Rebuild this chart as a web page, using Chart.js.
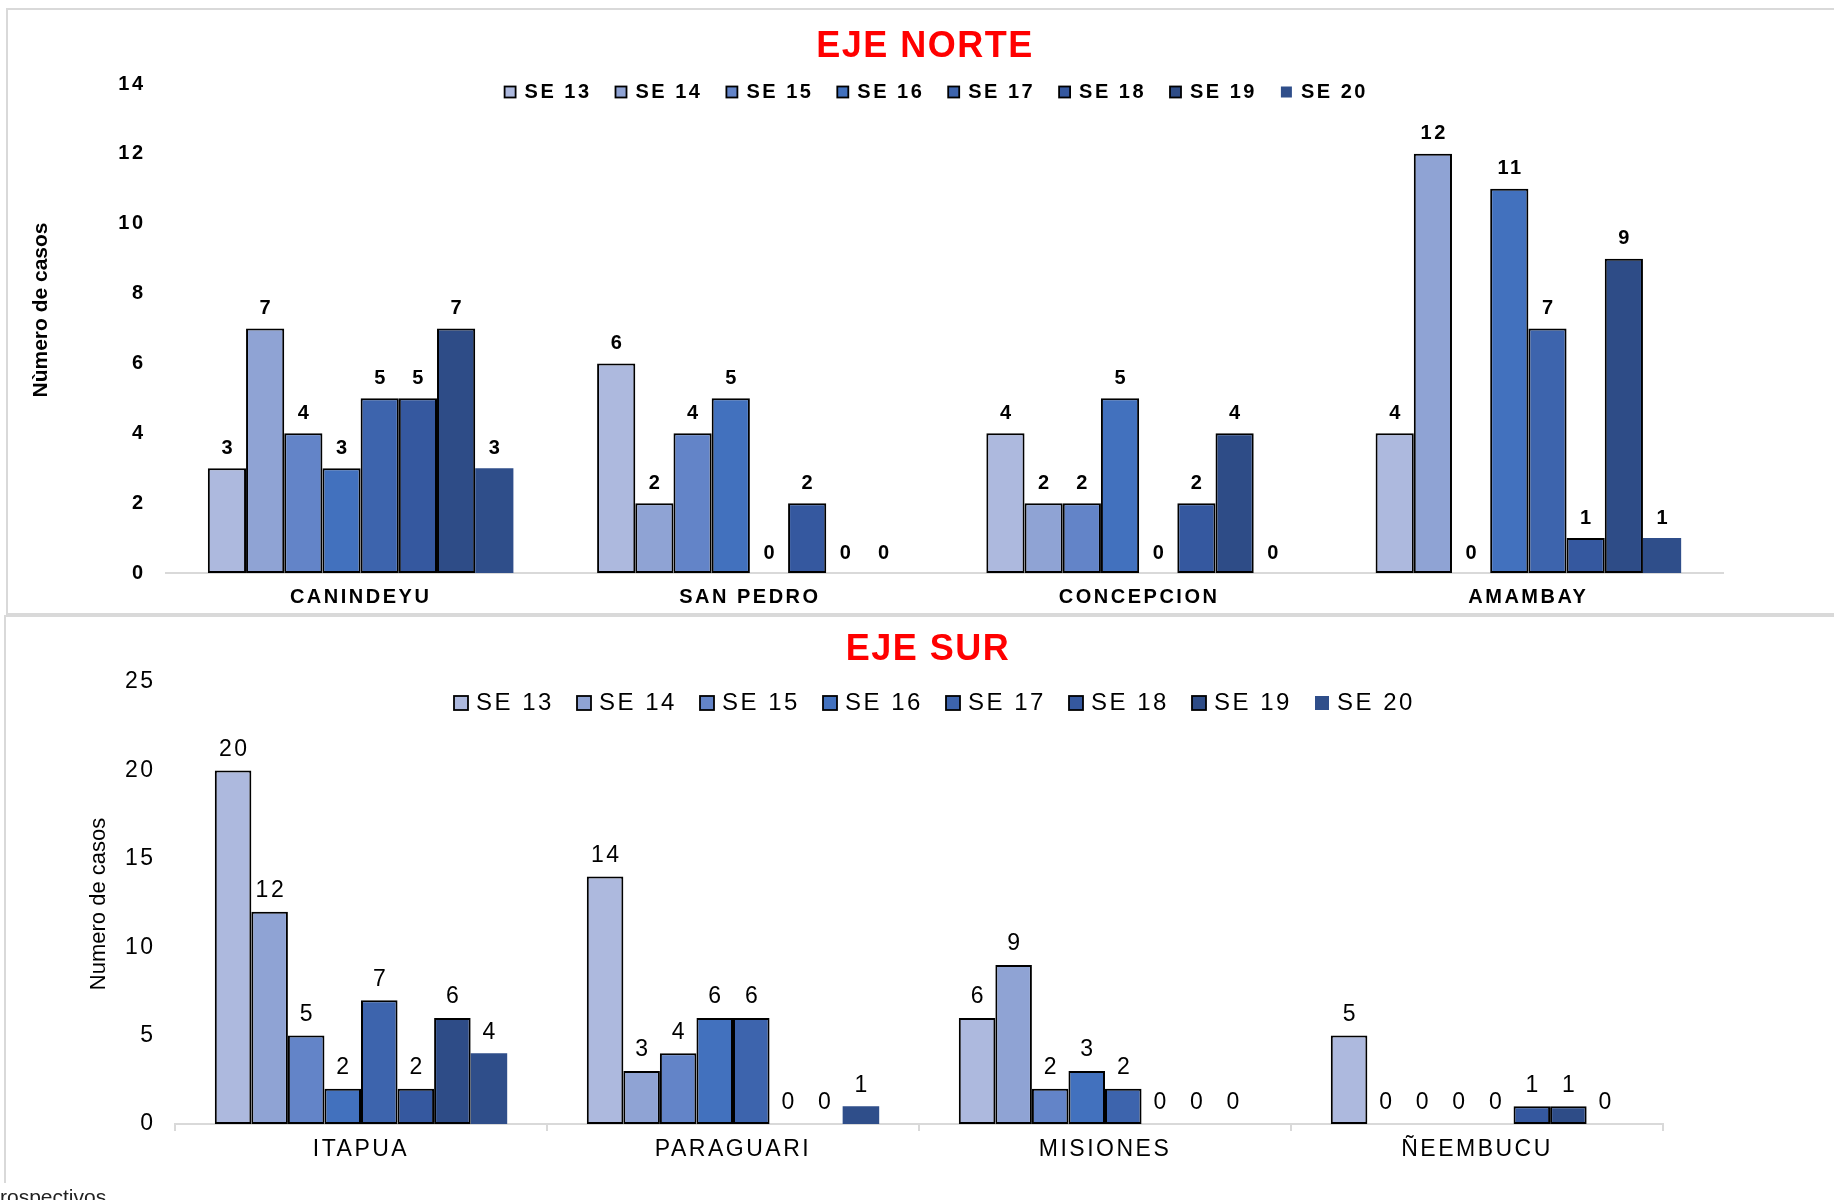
<!DOCTYPE html>
<html lang="es">
<head>
<meta charset="utf-8">
<title>Casos por SE — Eje Norte / Eje Sur</title>
<script src="https://cdn.jsdelivr.net/npm/chart.js@4.4.1/dist/chart.umd.min.js"></script>
<style>
  html, body { margin: 0; padding: 0; background: #fff; }
  body { width: 1834px; height: 1200px; position: relative; overflow: hidden;
         font-family: "Liberation Sans", Arial, sans-serif; }
  .frame { position: absolute; border: 2px solid #d9d9d9; border-right: none; }
  #frame-norte { left: 6px; top: 8px; width: 1840px; height: 603px; }
  #frame-sur { left: 4px; top: 615px; width: 1840px; height: 566px; border-bottom: none; }
  canvas { position: absolute; left: 0; }
  #chart-norte { top: 9px; }
  #chart-sur { top: 615px; }
  .nota { position: absolute; left: 0; top: 1185px; font-size: 21px; color: #222; }
</style>
</head>
<body>
<div class="frame" id="frame-norte"></div>
<div class="frame" id="frame-sur"></div>
<canvas id="chart-norte" width="1834" height="606"></canvas>
<canvas id="chart-sur" width="1834" height="585"></canvas>
<div class="nota">rospectivos</div>

<script>
// ─── Data ────────────────────────────────────────────────────────
const seriesNames  = ['SE 13', 'SE 14', 'SE 15', 'SE 16', 'SE 17', 'SE 18', 'SE 19', 'SE 20'];
const seriesColors = ['#adb9de', '#8fa3d4', '#6384c8', '#4271be', '#3d64ad', '#35589f', '#2e4c87', '#2f4e8a'];

// EJE NORTE — one row per semana, one value per departamento
const norteCategories = ['CANINDEYU', 'SAN PEDRO', 'CONCEPCION', 'AMAMBAY'];
const norteValues = [
  [3, 6, 4, 4],    // SE 13
  [7, 2, 2, 12],   // SE 14
  [4, 4, 2, 0],    // SE 15
  [3, 5, 5, 11],   // SE 16
  [5, 0, 0, 7],    // SE 17
  [5, 2, 2, 1],    // SE 18
  [7, 0, 4, 9],    // SE 19
  [3, 0, 0, 1]     // SE 20
];
const norteTicks = [0, 2, 4, 6, 8, 10, 12, 14];

// EJE SUR
const surCategories = ['ITAPUA', 'PARAGUARI', 'MISIONES', 'ÑEEMBUCU'];
const surValues = [
  [20, 14, 6, 5],  // SE 13
  [12, 3, 9, 0],   // SE 14
  [5, 4, 2, 0],    // SE 15
  [2, 6, 3, 0],    // SE 16
  [7, 6, 2, 0],    // SE 17
  [2, 0, 0, 1],    // SE 18
  [6, 0, 0, 1],    // SE 19
  [4, 1, 0, 0]     // SE 20
];
const surTicks = [0, 5, 10, 15, 20, 25];

const FONT = '"Liberation Sans", Arial, sans-serif';
Chart.defaults.font.family = FONT;

// ─── Title, legend, axis title and value labels ──────────────────
function decorPlugin(look) {
  return {
    id: 'decor',
    beforeDraw(chart) {
      // the source picture is stretched sideways, so widen the text a bit
      chart.ctx.letterSpacing = look.spacing + 'px';
    },
    afterDatasetsDraw(chart) {
      const ctx = chart.ctx;
      ctx.save();
      ctx.font = look.valueFont;
      ctx.fillStyle = '#000';
      ctx.textAlign = 'center';
      ctx.textBaseline = 'middle';
      chart.data.datasets.forEach((ds, i) => {
        chart.getDatasetMeta(i).data.forEach((bar, j) => {
          ctx.fillText(String(ds.data[j]), bar.x + look.spacing / 2, bar.y - look.valueGap);
        });
      });
      ctx.restore();
    },
    afterDraw(chart) {
      const ctx = chart.ctx;
      ctx.save();

      // title
      ctx.letterSpacing = look.titleSpacing + 'px';
      ctx.font = look.titleFont;
      ctx.fillStyle = '#ff0000';
      ctx.textAlign = 'center';
      ctx.textBaseline = 'middle';
      ctx.fillText(look.title, look.titleX, look.titleY);

      // legend
      ctx.letterSpacing = look.spacing + 'px';
      ctx.font = look.legendFont;
      ctx.textAlign = 'left';
      chart.data.datasets.forEach((ds, i) => {
        const x = look.legendX + i * look.legendStep;
        const b = look.legendBox;
        ctx.fillStyle = ds.backgroundColor;
        ctx.fillRect(x, look.legendY - b / 2, b, b);
        if (ds.borderWidth > 0) {
          ctx.lineWidth = 1.8;
          ctx.strokeStyle = '#000';
          ctx.strokeRect(x, look.legendY - b / 2, b, b);
        }
        ctx.fillStyle = '#000';
        ctx.fillText(ds.label, x + b + look.legendGap, look.legendY);
      });

      // y axis title
      ctx.letterSpacing = '0px';
      ctx.font = look.yTitleFont;
      ctx.textAlign = 'center';
      ctx.translate(look.yTitleX, look.yTitleY);
      ctx.rotate(-Math.PI / 2);
      ctx.fillText(look.yTitle, 0, 0);

      ctx.restore();
      ctx.letterSpacing = '0px';
    }
  };
}

// ─── Chart builder ───────────────────────────────────────────────
function buildChart(canvasId, categories, values, ticks, look) {
  const datasets = seriesNames.map((name, i) => ({
    label: name,
    data: values[i],
    backgroundColor: seriesColors[i],
    borderColor: '#000',
    borderWidth: i === seriesNames.length - 1 ? 0 : 2,
    borderSkipped: false,
    barPercentage: 1,
    categoryPercentage: look.groupShare
  }));

  return new Chart(document.getElementById(canvasId), {
    type: 'bar',
    data: { labels: categories, datasets },
    options: {
      responsive: false,
      animation: false,
      layout: { padding: { top: look.areaTop, right: look.padRight, bottom: 0, left: 0 } },
      plugins: {
        legend: { display: false },
        title: { display: false },
        tooltip: { enabled: false }
      },
      scales: {
        x: {
          afterFit: s => { s.height = look.xHeight; },
          grid: {
            display: look.xTickMarks,
            drawOnChartArea: false,
            drawTicks: look.xTickMarks,
            tickLength: 7,
            color: '#d9d9d9',
            lineWidth: 2
          },
          border: { display: true, color: '#d9d9d9', width: 2 },
          ticks: { color: '#000', font: look.catFont, padding: look.catPadding, maxRotation: 0 }
        },
        y: {
          min: ticks[0],
          max: ticks[ticks.length - 1],
          afterBuildTicks: s => { s.ticks = ticks.map(v => ({ value: v })); },
          afterFit: s => { s.width = look.yWidth; },
          grid: { display: false, drawTicks: false },
          border: { display: false },
          ticks: { color: '#000', font: look.tickFont, padding: look.tickPadding }
        }
      }
    },
    plugins: [decorPlugin(look)]
  });
}

buildChart('chart-norte', norteCategories, norteValues, norteTicks, {
  spacing: 2.5,
  areaTop: 75, padRight: 111, yWidth: 166, xHeight: 42,
  groupShare: 0.785,
  tickFont: { size: 20, weight: 'bold' }, tickPadding: 20.5,
  catFont: { size: 20, weight: 'bold' }, catPadding: 12,
  xTickMarks: false,
  valueFont: 'bold 20px ' + FONT, valueGap: 20,
  title: 'EJE NORTE', titleFont: 'bold 36px ' + FONT, titleSpacing: 1.5, titleX: 925, titleY: 38,
  legendFont: 'bold 20px ' + FONT, legendX: 504.6, legendStep: 110.9, legendY: 83,
  legendBox: 11, legendGap: 9,
  yTitle: 'Nùmero de casos', yTitleFont: 'bold 21px ' + FONT, yTitleX: 41, yTitleY: 301
});

buildChart('chart-sur', surCategories, surValues, surTicks, {
  spacing: 2.5,
  areaTop: 67, padRight: 171, yWidth: 175, xHeight: 76,
  groupShare: 0.786,
  tickFont: { size: 23 }, tickPadding: 19.5,
  catFont: { size: 23 }, catPadding: 4.9,
  xTickMarks: true,
  valueFont: '23px ' + FONT, valueGap: 21,
  title: 'EJE SUR', titleFont: 'bold 36px ' + FONT, titleSpacing: 1.5, titleX: 928, titleY: 35,
  legendFont: '24px ' + FONT, legendX: 454, legendStep: 123, legendY: 88,
  legendBox: 14, legendGap: 8,
  yTitle: 'Numero de casos', yTitleFont: '22px ' + FONT, yTitleX: 99, yTitleY: 289
});
</script>
</body>
</html>
